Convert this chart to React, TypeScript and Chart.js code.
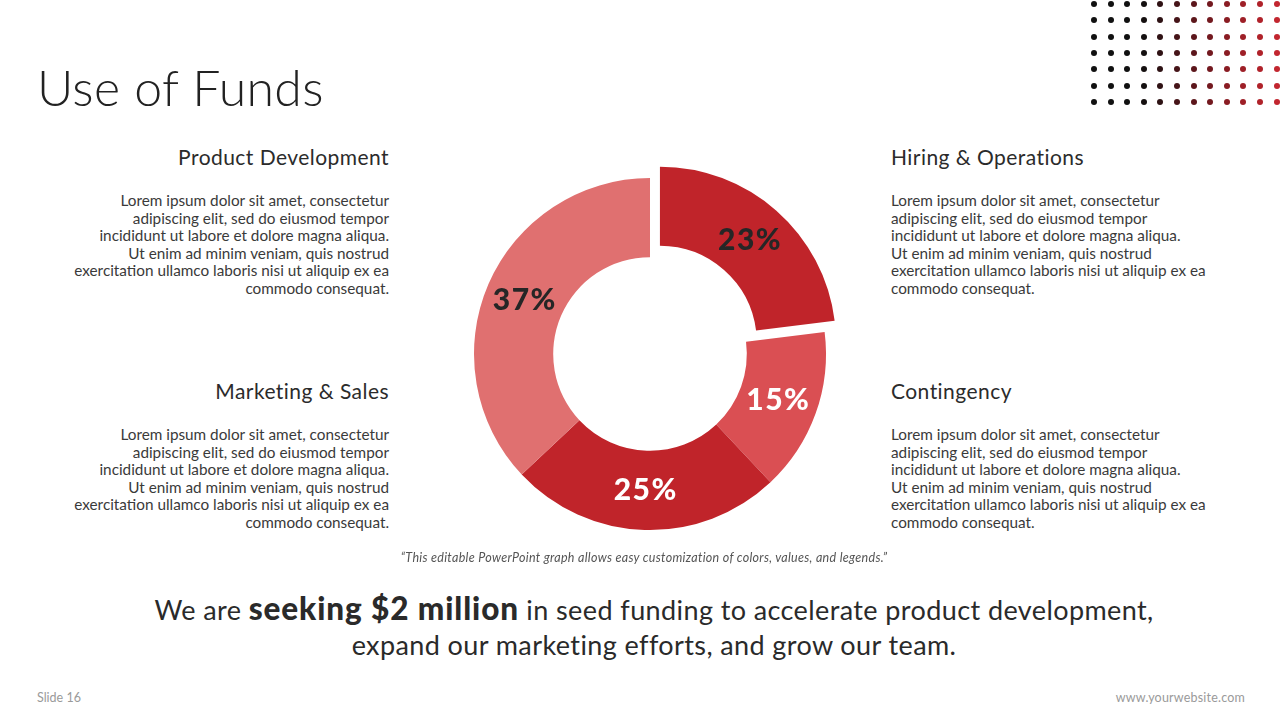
import React, { useEffect, useRef } from "react";
import { Chart, registerables } from "chart.js";

Chart.register(...registerables);

const categories = ["Hiring & Operations", "Contingency", "Marketing & Sales", "Product Development"];
const shares = [23, 15, 25, 37];
const sliceColors = ["#c0242a", "#da4f53", "#c0242a", "#e07070"];
const labelColors = ["#262626", "#ffffff", "#ffffff", "#262626"];
const explode = [60, 0, 0, 0];

const dotColors = ["#111111", "#111111", "#111111", "#151010", "#2e1214", "#461418", "#5c161b", "#73191f", "#8a1c23", "#9e1f27", "#b0222a", "#c2262f"];

const lorem = [
  "Lorem ipsum dolor sit amet, consectetur",
  "adipiscing elit, sed do eiusmod tempor",
  "incididunt ut labore et dolore magna aliqua.",
  "Ut enim ad minim veniam, quis nostrud",
  "exercitation ullamco laboris nisi ut aliquip ex ea",
  "commodo consequat.",
];

const FONT = "Lato, 'Noto Sans', sans-serif";

const labelPlugin = {
  id: "sliceLabels",
  afterDatasetsDraw(chart: any) {
    const ctx = chart.ctx;
    const meta = chart.getDatasetMeta(0);
    ctx.save();
    ctx.font = `900 30px ${FONT}`;
    try {
      (ctx as any).letterSpacing = "1.5px";
    } catch (e) {}
    ctx.textAlign = "center";
    ctx.textBaseline = "middle";
    meta.data.forEach((arc: any, i: number) => {
      const half = (arc.startAngle + arc.endAngle) / 2;
      const rr = (arc.innerRadius + arc.outerRadius) / 2 + (explode[i] || 0) / 4;
      const x = arc.x + Math.cos(half) * rr;
      const y = arc.y + Math.sin(half) * rr;
      ctx.fillStyle = labelColors[i];
      ctx.fillText(shares[i] + "%", x, y);
    });
    ctx.restore();
  },
};

function Donut() {
  const ref = useRef<HTMLCanvasElement>(null);
  useEffect(() => {
    const chart = new Chart(ref.current!, {
      type: "doughnut",
      data: {
        labels: categories,
        datasets: [
          {
            data: shares,
            backgroundColor: sliceColors,
            borderWidth: 0,
            offset: explode,
          },
        ],
      },
      options: {
        animation: false,
        responsive: false,
        radius: 176,
        cutout: "55%",
        layout: { padding: 0 },
        plugins: { legend: { display: false }, tooltip: { enabled: false } },
      },
      plugins: [labelPlugin],
    });
    return () => chart.destroy();
  }, []);
  return (
    <canvas
      ref={ref}
      width={400}
      height={400}
      style={{ position: "absolute", left: 450, top: 154, width: 400, height: 400 }}
    />
  );
}

function Block({ title, x, y, align }: { title: string; x: number; y: number; align: "left" | "right" }) {
  const style: any = {
    position: "absolute",
    top: y,
    textAlign: align,
    fontFamily: FONT,
    color: "#333",
  };
  if (align === "right") style.right = 1280 - x;
  else style.left = x;
  return (
    <div style={style}>
      <div style={{ fontSize: 21, letterSpacing: "0.45px", lineHeight: "24px", fontWeight: 400, color: "#2b2b2b" }}>
        {title}
      </div>
      <div
        style={{
          marginTop: 23,
          fontSize: 15.3,
          lineHeight: "17.5px",
          color: "#3a3a3a",
          whiteSpace: "pre",
        }}
      >
        {lorem.join("\n")}
      </div>
    </div>
  );
}

export default function App() {
  const dots: any[] = [];
  for (let r = 0; r < 7; r++) {
    for (let c = 0; c < 12; c++) {
      dots.push(
        <div
          key={r + "-" + c}
          style={{
            position: "absolute",
            left: 1094 + c * 16.6 - 3,
            top: 4 + r * 16.3 - 3,
            width: 6,
            height: 6,
            borderRadius: 3,
            background: dotColors[c],
          }}
        />
      );
    }
  }
  return (
    <div
      style={{
        position: "fixed",
        left: 0,
        top: 0,
        width: 1280,
        height: 720,
        background: "#fff",
        overflow: "hidden",
        fontFamily: FONT,
      }}
    >
      {dots}
      <div
        style={{
          position: "absolute",
          left: 37,
          top: 57,
          fontSize: 50,
          letterSpacing: "0.3px",
          fontWeight: 300,
          color: "#222",
          lineHeight: "60px",
        }}
      >
        Use of Funds
      </div>
      <Block title="Product Development" x={389} y={145} align="right" />
      <Block title="Marketing & Sales" x={389} y={379} align="right" />
      <Block title="Hiring & Operations" x={891} y={145} align="left" />
      <Block title="Contingency" x={891} y={379} align="left" />
      <Donut />
      <div
        style={{
          position: "absolute",
          left: 4,
          width: 1280,
          top: 550,
          textAlign: "center",
          fontSize: 12.5,
          letterSpacing: "0.3px",
          fontStyle: "italic",
          color: "#555",
        }}
      >
        “This editable PowerPoint graph allows easy customization of colors, values, and legends.”
      </div>
      <div
        style={{
          position: "absolute",
          left: 14,
          width: 1280,
          top: 591,
          textAlign: "center",
          fontSize: 27,
          letterSpacing: "0.4px",
          lineHeight: "35px",
          color: "#2a2a2a",
        }}
      >
        We are <span style={{ fontWeight: 900, fontSize: 31.5, letterSpacing: "0.9px" }}>seeking $2 million</span> in
        seed funding to accelerate product development,
        <br />
        expand our marketing efforts, and grow our team.
      </div>
      <div style={{ position: "absolute", left: 37, top: 690, fontSize: 12.5, color: "#9a9a9a" }}>Slide 16</div>
      <div style={{ position: "absolute", right: 35, top: 690, fontSize: 12.5, letterSpacing: "0.2px", color: "#9a9a9a" }}>
        www.yourwebsite.com
      </div>
    </div>
  );
}
